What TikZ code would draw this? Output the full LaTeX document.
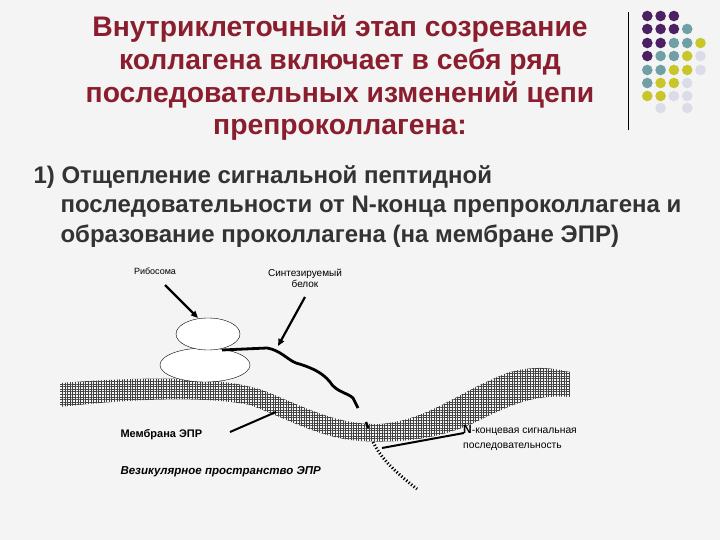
\documentclass[tikz,border=0pt]{standalone}
\usepackage{fontspec}
\setmainfont{Liberation Sans}
\usetikzlibrary{patterns.meta,arrows.meta,shapes.geometric}
\definecolor{ttl}{HTML}{8A1E2E}
\definecolor{dP}{HTML}{4B2163}
\definecolor{dT}{HTML}{6FA0A6}
\definecolor{dY}{HTML}{C8C62A}
\definecolor{dL}{HTML}{DCDCE8}
\begin{document}
\begin{tikzpicture}[x=1pt,y=-1pt,
  title/.style={font=\bfseries\fontsize{28.3}{30}\selectfont,text=ttl,anchor=base},
  body/.style={font=\bfseries\fontsize{24}{26}\selectfont,text=black!80,anchor=base west},
  small/.style={font=\fontsize{10}{11}\selectfont,anchor=center}]
\fill[gray!9] (0,0) rectangle (720,540);
\useasboundingbox (0,0) rectangle (720,540);
% decoration
\draw[line width=1pt] (628,12) -- (628,130);
\foreach \r/\cols in {16/{1/dP,2/dP,3/dP},29/{1/dP,2/dP,3/dP,4/dT},43/{1/dP,2/dP,3/dT,4/dT,5/dY},56/{1/dP,2/dT,3/dT,4/dY,5/dL},70/{1/dT,2/dT,3/dY,4/dY,5/dL},83/{1/dT,2/dY,3/dY,4/dL},96/{1/dY,2/dY,3/dL,4/dL},108/{2/dL,4/dL}}{
  \foreach \c/\col in \cols { \fill[\col] ({634+13.3*\c},\r) circle (5.3pt); }}
% title
\node[title] (t1) at (340,37) {Внутриклеточный этап созревание};
\node[title] (t2) at (340,70) {коллагена включает в себя ряд};
\node[title] (t3) at (340,103) {последовательных изменений цепи};
\node[title] (t4) at (340,135) {препроколлагена:};
\node[body] (b1) at (30,184) {1) Отщепление сигнальной пептидной};
\node[body] (b2) at (57,213) {последовательности от N-конца препроколлагена и};
\node[body] (b3) at (57,242) {образование проколлагена (на мембране ЭПР)};
% membrane
\path[pattern={Hatch[angle=0,distance=2.6pt,line width=0.7pt]},pattern color=black!75]
  (60,383) .. controls (150,376) and (230,376) .. (270,393)
  .. controls (310,410) and (340,425) .. (380,424)
  .. controls (430,420) and (460,390) .. (510,372)
  .. controls (540,364) and (560,370) .. (570,372)
  -- (570,397)
  .. controls (540,395) and (520,400) .. (480,420)
  .. controls (440,440) and (400,443) .. (360,441)
  .. controls (320,438) and (290,420) .. (250,405)
  .. controls (200,395) and (120,400) .. (60,407) -- cycle;
% ribosome
\node[draw,fill=white,ellipse,minimum width=90pt,minimum height=34pt,inner sep=0pt] (e2) at (205,365) {};
\node[draw,fill=white,ellipse,minimum width=64pt,minimum height=32pt,inner sep=0pt] (e1) at (208,334) {};
% protein chain
\draw[line width=2.8pt,line join=round] (222,350) -- (267,348) .. controls (280,350) and (288,360) .. (296,363)
  .. controls (310,367) and (322,372) .. (330,382) .. controls (336,392) and (348,393) .. (353,398) -- (358,408);
\draw[line width=2.5pt] (366,422) -- (368,428);
\draw[line width=3pt,dash pattern=on 1.2pt off 2pt] (373,442) .. controls (380,456) and (390,468) .. (417,489);
% labels
\node[small,font=\fontsize{9}{10}\selectfont] (rib) at (155,271) {Рибосома};
\node[small,align=center] (prot) at (305,278) {Синтезируемый\\белок};
\node[font=\bfseries\fontsize{11}{12}\selectfont,anchor=west] (mem) at (117,435) {Мембрана ЭПР};
\node[font=\bfseries\itshape\fontsize{11.5}{12}\selectfont,anchor=west] (ves) at (117,472) {Везикулярное пространство ЭПР};
\node[font=\fontsize{10.3}{12}\selectfont,anchor=north west,align=left,inner sep=1pt] (nsig) at (462,424) {\textbf{\fontsize{12}{12}\selectfont N}-концевая сигнальная\\[3pt]последовательность};
\coordinate (ribA) at (165,285); \coordinate (ribB) at (198,318);
\coordinate (prA) at (305,297); \coordinate (prB) at (278,346);
\coordinate (mA) at (230,432); \coordinate (mB) at (276,412);
\coordinate (nA) at (464,433); \coordinate (nB) at (382,448);
\draw[line width=2.2pt,-{Triangle[length=7pt,width=6pt]}] (ribA) -- (ribB);
\draw[line width=2.2pt,-{Triangle[length=7pt,width=6pt]}] (prA) -- (prB);
\draw[line width=2pt] (mA) -- (mB);
\draw[line width=2pt] (nA) -- (nB);
\end{tikzpicture}
\end{document}
